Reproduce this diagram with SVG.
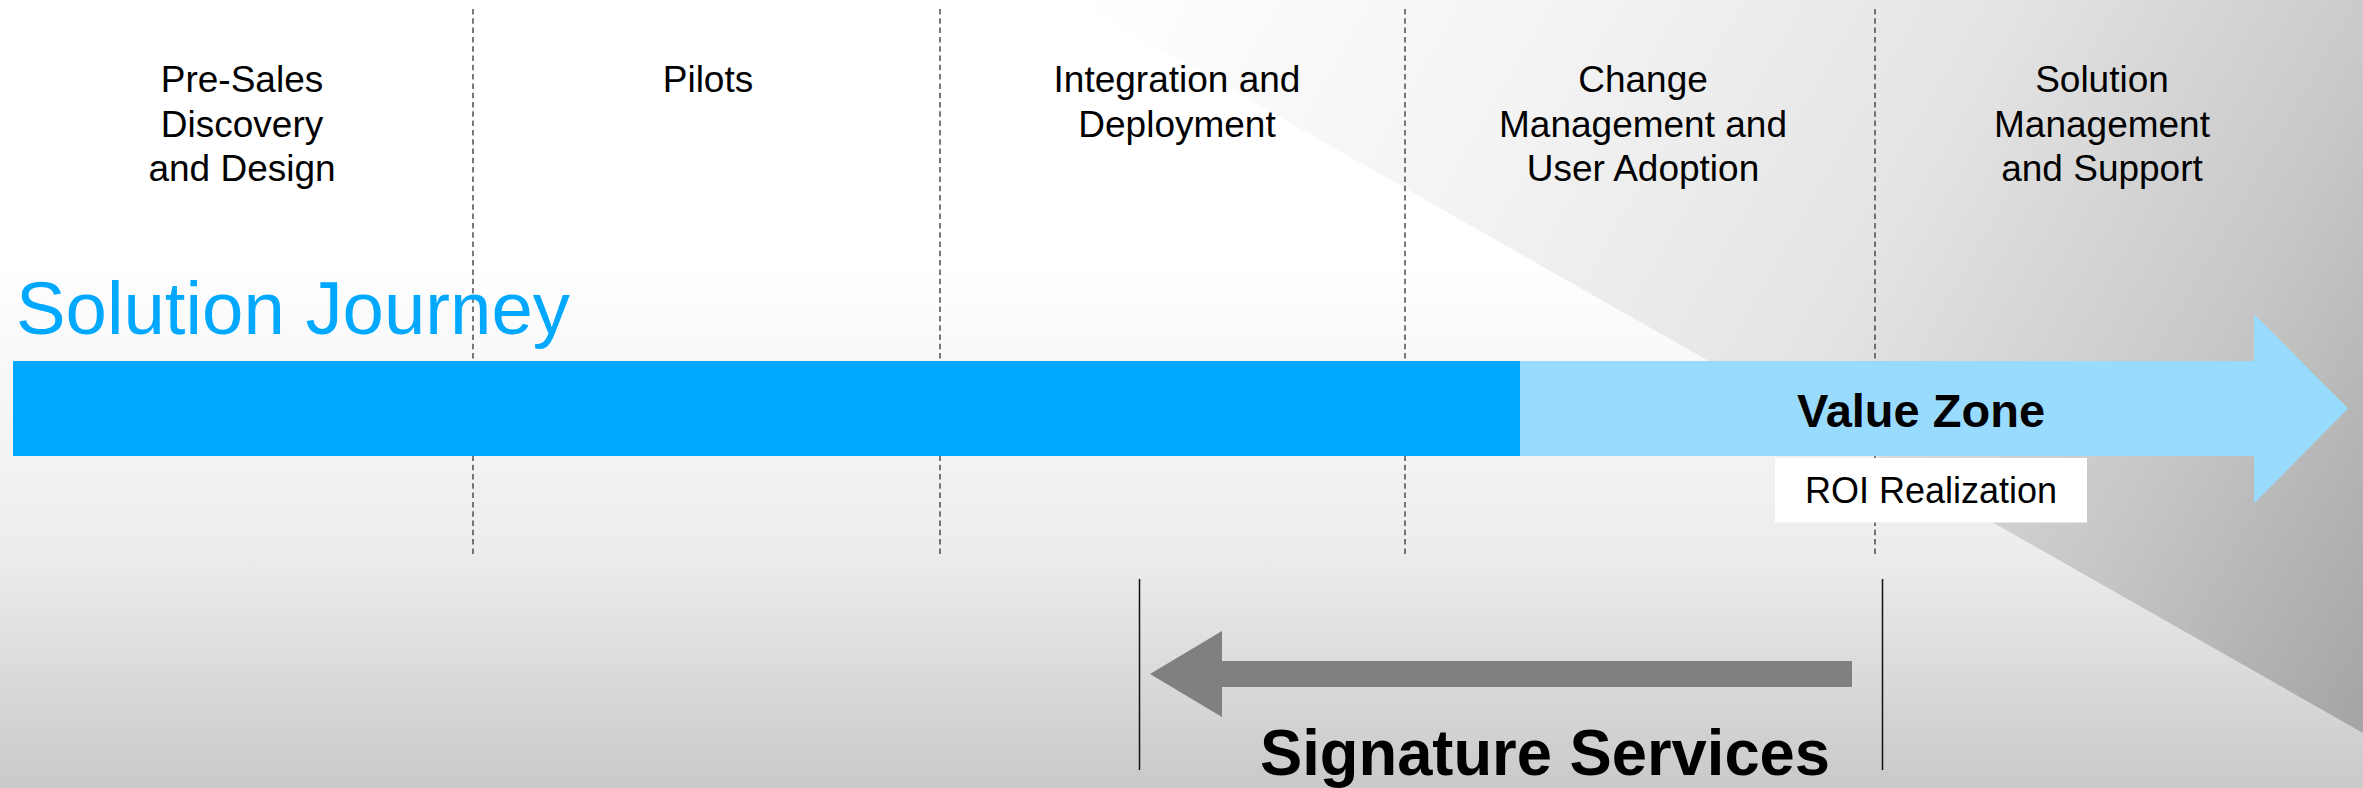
<svg xmlns="http://www.w3.org/2000/svg" width="2363" height="788" viewBox="0 0 2363 788">
  <style>
    .lbl { font-family: "Liberation Sans", Arial, sans-serif; font-size: 37px; fill: #000; text-anchor: middle; }
    .div { stroke: #333; stroke-width: 1.3; stroke-dasharray: 5.5 3.8; fill: none; }
    .bracket { stroke: #111; stroke-width: 1.5; }
  </style>
  <defs>
    <linearGradient id="bgV" x1="0" y1="0" x2="0" y2="788" gradientUnits="userSpaceOnUse">
      <stop offset="0" stop-color="#ffffff"/>
      <stop offset="0.33" stop-color="#ffffff"/>
      <stop offset="0.71" stop-color="#ececec"/>
      <stop offset="1" stop-color="#c9c9c9"/>
    </linearGradient>
    <linearGradient id="bgD" x1="1074" y1="0" x2="2363" y2="733" gradientUnits="userSpaceOnUse">
      <stop offset="0" stop-color="#ffffff"/>
      <stop offset="0.3" stop-color="#f3f3f3"/>
      <stop offset="0.55" stop-color="#e4e4e4"/>
      <stop offset="0.78" stop-color="#c8c8c8"/>
      <stop offset="1" stop-color="#a4a4a4"/>
    </linearGradient>
  </defs>

  <g id="background">
    <rect x="0" y="0" width="2363" height="788" fill="url(#bgV)"/>
    <polygon points="1074,0 2363,0 2363,733" fill="url(#bgD)"/>
  </g>

  <g id="dividers">
    <line class="div" x1="473" y1="9" x2="473" y2="556"/>
    <line class="div" x1="940" y1="9" x2="940" y2="556"/>
    <line class="div" x1="1405" y1="9" x2="1405" y2="556"/>
    <line class="div" x1="1875" y1="9" x2="1875" y2="556"/>
  </g>

  <g id="phase-presales">
    <text class="lbl" x="242" y="92">Pre-Sales</text>
    <text class="lbl" x="242" y="137">Discovery</text>
    <text class="lbl" x="242" y="181">and Design</text>
  </g>
  <g id="phase-pilots">
    <text class="lbl" x="708" y="92">Pilots</text>
  </g>
  <g id="phase-integration">
    <text class="lbl" x="1177" y="92">Integration and</text>
    <text class="lbl" x="1177" y="137">Deployment</text>
  </g>
  <g id="phase-change">
    <text class="lbl" x="1643" y="92">Change</text>
    <text class="lbl" x="1643" y="137">Management and</text>
    <text class="lbl" x="1643" y="181">User Adoption</text>
  </g>
  <g id="phase-solution">
    <text class="lbl" x="2102" y="92">Solution</text>
    <text class="lbl" x="2102" y="137">Management</text>
    <text class="lbl" x="2102" y="181">and Support</text>
  </g>

  <g id="solution-journey">
    <text x="16" y="334" font-family="Liberation Sans, Arial, sans-serif" font-size="75" fill="#00a8ff" textLength="554" lengthAdjust="spacingAndGlyphs">Solution Journey</text>
  </g>

  <g id="journey-arrow">
    <polygon points="13,361 2254,361 2254,314 2348,408.5 2254,503.5 2254,456 13,456" fill="#99dbff"/>
    <rect x="13" y="361" width="1507" height="95" fill="#00a8ff"/>
    <text x="1921" y="427" font-family="Liberation Sans, Arial, sans-serif" font-size="47" font-weight="bold" fill="#000" text-anchor="middle">Value Zone</text>
  </g>

  <g id="roi">
    <rect x="1775" y="458" width="312" height="64.5" fill="#ffffff"/>
    <text x="1931" y="503" font-family="Liberation Sans, Arial, sans-serif" font-size="36" fill="#000" text-anchor="middle">ROI Realization</text>
  </g>

  <g id="connectors">
    <line class="bracket" x1="1139.5" y1="579" x2="1139.5" y2="770"/>
    <line class="bracket" x1="1882.5" y1="579" x2="1882.5" y2="770"/>
    <polygon points="1852,661 1222,661 1222,631 1150,674 1222,717 1222,687 1852,687" fill="#808080"/>
  </g>

  <g id="signature-services">
    <text x="1260" y="775" font-family="Liberation Sans, Arial, sans-serif" font-size="64" font-weight="bold" fill="#000" textLength="570" lengthAdjust="spacingAndGlyphs">Signature Services</text>
  </g>
</svg>
